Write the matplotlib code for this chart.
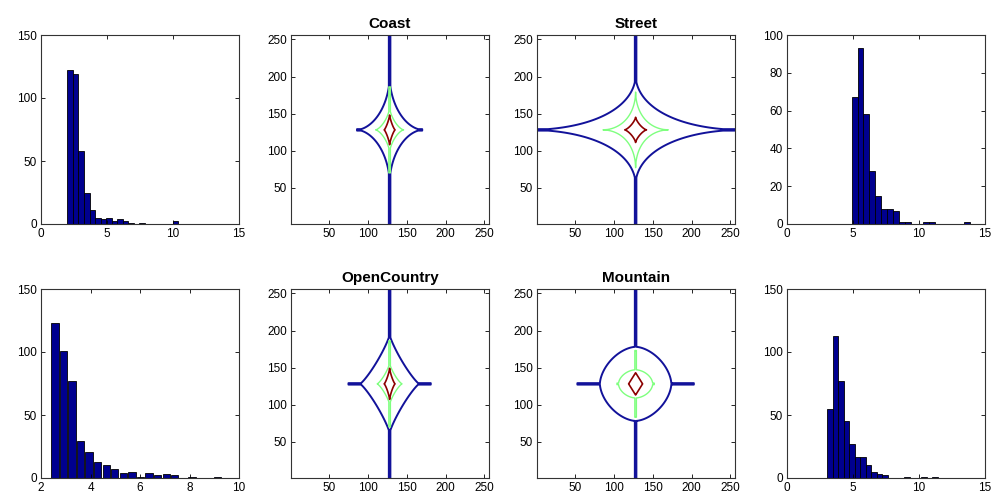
import numpy as np
import matplotlib
matplotlib.use("Agg")
import matplotlib.pyplot as plt

plt.rcParams['font.family'] = ['Liberation Sans', 'DejaVu Sans']

# ---- histogram data (bin centres, counts) ----
h1_centers = [2.21, 2.63, 3.05, 3.47, 3.89, 4.31, 4.73, 5.15, 5.57, 5.99,
              6.41, 6.83, 7.25, 7.67, 8.09, 8.51, 8.93, 9.35, 9.77, 10.19]
h1_counts = [122, 119, 58, 25, 11, 5, 4, 5, 2, 4, 2, 1, 0, 1, 0, 0, 0, 0, 0, 2]

h2_centers = [5.12, 5.57, 6.02, 6.47, 6.92, 7.37, 7.82, 8.27, 8.72, 9.17,
              9.62, 10.07, 10.52, 10.97, 11.42, 11.87, 12.32, 12.77, 13.22, 13.67]
h2_counts = [67, 93, 58, 28, 15, 8, 8, 7, 1, 1, 0, 0, 1, 1, 0, 0, 0, 0, 0, 1]

h3_centers = [2.56, 2.91, 3.25, 3.60, 3.94, 4.29, 4.64, 4.98, 5.33, 5.67,
              6.02, 6.37, 6.71, 7.06, 7.40, 7.75, 8.10, 8.44, 8.79, 9.13]
h3_counts = [123, 101, 77, 29, 21, 13, 10, 7, 4, 5, 1, 4, 2, 3, 2, 0, 1, 0, 0, 1]

h4_centers = [3.26, 3.68, 4.10, 4.51, 4.93, 5.35, 5.77, 6.18, 6.60, 7.02,
              7.44, 7.86, 8.27, 8.69, 9.11, 9.53, 9.94, 10.36, 10.78, 11.20]
h4_counts = [55, 113, 77, 45, 27, 17, 17, 10, 5, 3, 2, 0, 0, 0, 1, 0, 0, 1, 0, 1]

# ---- contour shapes per scene: rows = blue, green, red level
# [half width, half height, exponent, horizontal spike, vertical spike]
scene_names = ['Coast', 'Street', 'OpenCountry', 'Mountain']
coast_shape = [[42, 70, 0.6, 42, 200], [18, 30, 0.7, 0, 58], [7, 20, 0.8, 0, 0]]
street_shape = [[135, 73, 0.55, 140, 200], [42, 51, 0.55, 0, 0], [14, 17, 0.75, 0, 0]]
opencountry_shape = [[38, 66, 0.85, 53, 200], [16, 28, 0.8, 0, 58], [7, 21, 0.8, 0, 0]]
mountain_shape = [[46, 50, 1.7, 75, 200], [22, 19, 1.8, 24, 45], [9, 15, 1.0, 0, 0]]
level_colors = ['#12129a', '#7fff7f', '#8b0000']
center = 128

bar_color = '#00008f'

W, H = 998, 495
fig = plt.figure(figsize=(W / 100, H / 100), dpi=100)

col_x = [41, 291, 537, 787]
row_top = [35, 289]
ax_w, ax_h = 198, 189


def make_ax(col, row):
    left = col_x[col] / W
    bottom = 1 - (row_top[row] + ax_h) / H
    ax = fig.add_axes([left, bottom, ax_w / W, ax_h / H])
    ax.tick_params(direction='in', top=True, right=True, length=3,
                   labelsize=8.5, width=0.6, pad=3)
    for s in ax.spines.values():
        s.set_color('#333333')
        s.set_linewidth(0.8)
    return ax


def hist_panel(ax, centers, counts, width, xlim, xticks, ylim, yticks):
    ax.bar(centers, counts, width=width, color=bar_color,
           edgecolor='black', linewidth=0.6)
    ax.set_xlim(*xlim)
    ax.set_xticks(xticks)
    ax.set_ylim(*ylim)
    ax.set_yticks(yticks)


def level_field(X, Y, a, b, p, hs, vs, w=1.0):
    dx = np.abs(X - center)
    dy = np.abs(Y - center)
    z = (dx / a) ** p + (dy / b) ** p
    if hs > 0:
        z = np.minimum(z, np.maximum(dx / hs, dy / w))
    if vs > 0:
        z = np.minimum(z, np.maximum(dy / vs, dx / w))
    return z


g = np.arange(0, 257.01, 0.5)
X, Y = np.meshgrid(g, g)


def contour_panel(ax, shape, title):
    lws = [1.4, 1.0, 1.2]
    for row, col, lw in zip(shape, level_colors, lws):
        z = level_field(X, Y, *row)
        ax.contour(X, Y, z, levels=[1], colors=col, linewidths=lw)
    ax.set_xlim(1, 256)
    ax.set_ylim(1, 256)
    ax.set_xticks([50, 100, 150, 200, 250])
    ax.set_yticks([50, 100, 150, 200, 250])
    ax.set_title(title, fontsize=11, fontweight='bold', pad=5)


ax = make_ax(0, 0)
hist_panel(ax, h1_centers, h1_counts, 0.42, (0, 15), [0, 5, 10, 15],
           (0, 150), [0, 50, 100, 150])

ax = make_ax(1, 0)
contour_panel(ax, coast_shape, scene_names[0])

ax = make_ax(2, 0)
contour_panel(ax, street_shape, scene_names[1])

ax = make_ax(3, 0)
hist_panel(ax, h2_centers, h2_counts, 0.45, (0, 15), [0, 5, 10, 15],
           (0, 100), [0, 20, 40, 60, 80, 100])

ax = make_ax(0, 1)
hist_panel(ax, h3_centers, h3_counts, 0.30, (2, 10), [2, 4, 6, 8, 10],
           (0, 150), [0, 50, 100, 150])

ax = make_ax(1, 1)
contour_panel(ax, opencountry_shape, scene_names[2])

ax = make_ax(2, 1)
contour_panel(ax, mountain_shape, scene_names[3])

ax = make_ax(3, 1)
hist_panel(ax, h4_centers, h4_counts, 0.42, (0, 15), [0, 5, 10, 15],
           (0, 150), [0, 50, 100, 150])

fig.savefig('out.png', dpi=100)
